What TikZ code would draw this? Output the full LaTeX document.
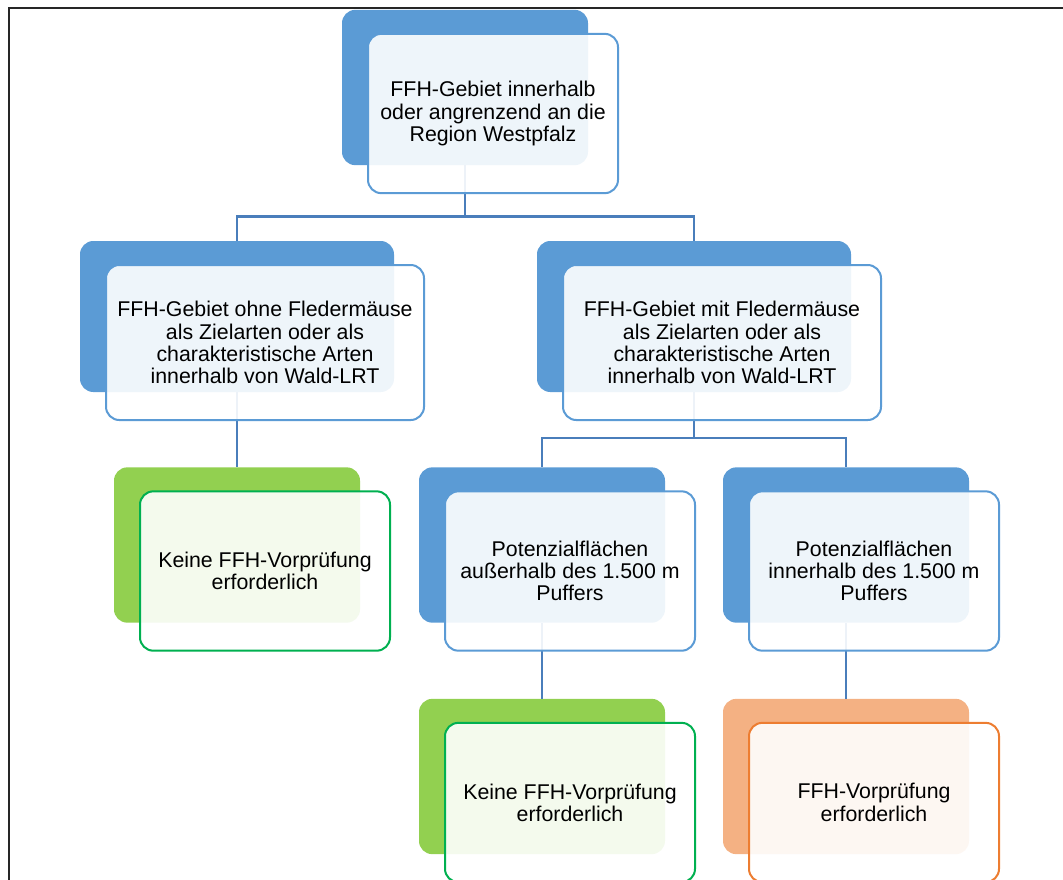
\documentclass[tikz,border=0pt]{standalone}
\usepackage{fontspec}
\setmainfont{Liberation Sans}
\definecolor{bkblue}{RGB}{91,155,213}
\definecolor{bkgreen}{RGB}{146,208,80}
\definecolor{lngreen}{RGB}{0,176,80}
\definecolor{bkorange}{RGB}{244,177,131}
\definecolor{lnorange}{RGB}{237,125,49}
\definecolor{connblue}{RGB}{74,126,187}
\begin{document}
\begin{tikzpicture}[x=0.75pt, y=-0.75pt]
			\tikzset{
			    bk/.style= {rectangle, rounded corners=10pt, fill=bkblue, inner sep=0pt, minimum width=184.5pt, minimum height=116.5pt},
			    bkwide/.style= {bk, minimum width=235.5pt, minimum height=113.25pt},
			    fr/.style= {rectangle, rounded corners=10pt, draw=bkblue, line width=1.5pt, fill=white, fill opacity=0.9, text opacity=1, align=center, inner sep=0pt, minimum width=187.5pt, minimum height=119.5pt, font=\fontsize{16}{16.7}\selectfont},
			    frwide/.style= {fr, minimum width=238.5pt, minimum height=116.25pt},
			    conn/.style= {draw=connblue, line width=1.6pt},
			}
			\useasboundingbox (0,0) rectangle (1063,879);
			\draw[line width=0.8pt, black!85] (9,8) rectangle (1075,895);
			
			% hintere Flaechen
			\node[bk] (rootbk) at (465, 87.5) {};
			\node[bkwide] (linksbk) at (237, 316.5) {};
			\node[bkwide] (rechtsbk) at (694, 316.5) {};
			\node[bk, fill=bkgreen] (keinebk) at (237, 545) {};
			\node[bk] (ausserbk) at (542, 545) {};
			\node[bk] (innerbk) at (846, 545) {};
			\node[bk, fill=bkgreen] (keine2bk) at (542, 776.5) {};
			\node[bk, fill=bkorange] (pruefbk) at (846, 776.5) {};
			
			\draw[conn] (rootbk.south) -- ++(0,51) -| (linksbk.north);
			\draw[conn] (rootbk.south) -- ++(0,51) -| (rechtsbk.north);
			\draw[conn] (linksbk.south) -- (keinebk.north);
			\draw[conn] (rechtsbk.south) -- ++(0,46) -| (ausserbk.north);
			\draw[conn] (rechtsbk.south) -- ++(0,46) -| (innerbk.north);
			\draw[conn] (ausserbk.south) -- (keine2bk.north);
			\draw[conn] (innerbk.south) -- (pruefbk.north);
			
			% vordere Kaesten
			\node[fr] (rootfr) at ([shift={(28,26)}]rootbk.center) {FFH-Gebiet innerhalb\\oder angrenzend an die\\Region Westpfalz};
			\node[frwide] (linksfr) at ([shift={(28,26)}]linksbk.center) {FFH-Gebiet ohne Fledermäuse\\als Zielarten oder als\\charakteristische Arten\\innerhalb von Wald-LRT};
			\node[frwide] (rechtsfr) at ([shift={(28,26)}]rechtsbk.center) {FFH-Gebiet mit Fledermäuse\\als Zielarten oder als\\charakteristische Arten\\innerhalb von Wald-LRT};
			\node[fr, draw=lngreen] (keinefr) at ([shift={(28,26)}]keinebk.center) {Keine FFH-Vorprüfung\\erforderlich};
			\node[fr] (ausserfr) at ([shift={(28,26)}]ausserbk.center) {Potenzialflächen\\außerhalb des 1.500 m\\Puffers};
			\node[fr] (innerfr) at ([shift={(28,26)}]innerbk.center) {Potenzialflächen\\innerhalb des 1.500 m\\Puffers};
			\node[fr, draw=lngreen] (keine2fr) at ([shift={(28,26)}]keine2bk.center) {Keine FFH-Vorprüfung\\erforderlich};
			\node[fr, draw=lnorange] (prueffr) at ([shift={(28,26)}]pruefbk.center) {FFH-Vorprüfung\\erforderlich};
		\end{tikzpicture}
\end{document}
